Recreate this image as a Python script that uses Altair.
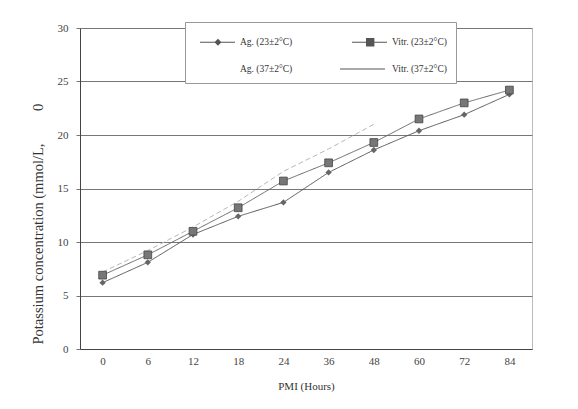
import altair as alt
import pandas as pd

hours = ["0", "6", "12", "18", "24", "36", "48", "60", "72", "84"]
ag_23 = [6.2, 8.1, 10.7, 12.4, 13.7, 16.5, 18.6, 20.4, 21.9, 23.8]
vitr_23 = [6.9, 8.8, 11.0, 13.2, 15.7, 17.4, 19.3, 21.5, 23.0, 24.2]
hours_37 = ["0", "6", "12", "18", "24", "36", "48"]
vitr_37 = [7.2, 9.2, 11.4, 13.8, 16.6, 18.7, 21.0]

series_names = ["Ag. (23±2°C)", "Vitr. (23±2°C)", "Ag. (37±2°C)", "Vitr. (37±2°C)"]

rows = []
for h, v in zip(hours, ag_23):
    rows.append({"hour": h, "value": v, "series": series_names[0]})
for h, v in zip(hours, vitr_23):
    rows.append({"hour": h, "value": v, "series": series_names[1]})
for h, v in zip(hours_37, vitr_37):
    rows.append({"hour": h, "value": v, "series": series_names[3]})
df = pd.DataFrame(rows)

FONT = "Liberation Serif"
NB = "\u00a0"

x_enc = alt.X("hour:N", sort=hours, scale=alt.Scale(paddingInner=0, paddingOuter=0.5),
              axis=alt.Axis(title="PMI (Hours)", labelAngle=0, ticks=False, labelPadding=6,
                            titlePadding=14, grid=False, domainColor="#444",
                            labelFontSize=11, titleFontSize=11))
y_enc = alt.Y("value:Q", scale=alt.Scale(domain=[0, 30]),
              axis=alt.Axis(values=[0, 5, 10, 15, 20, 25, 30], tickSize=4, labelPadding=8,
                            labelFontSize=11, titleFontSize=14.5,
                            title="Potassium concentration (mmol/L," + NB * 9 + "0",
                            titleAnchor="start", titleAlign="left", titleY=316, titleX=-35,
                            gridColor="#777", domainColor="#444", tickColor="#777"))

base = alt.Chart(df)

lines = base.mark_line(strokeWidth=1).encode(
    x=x_enc, y=y_enc,
    color=alt.Color("series:N", scale=alt.Scale(domain=series_names,
                                                range=["#555", "#666", "#ddd", "#b8b8b8"]), legend=None),
    strokeDash=alt.StrokeDash("series:N", scale=alt.Scale(domain=series_names,
                                                          range=[[1, 0], [1, 0], [4, 3], [5, 3]]), legend=None),
    detail="series:N",
)

pts_ag = base.transform_filter(alt.datum.series == series_names[0]).mark_point(
    shape="diamond", filled=True, size=40, color="#666", opacity=1
).encode(x=x_enc, y=y_enc)

pts_vitr = base.transform_filter(alt.datum.series == series_names[1]).mark_point(
    shape="square", filled=True, size=60, color="#777", stroke="#444", strokeWidth=0.8, opacity=1
).encode(x=x_enc, y=y_enc)

# legend symbols: line + marker, drawn as filled paths (unit = 11 px)
legend_paths = [
    "M-0.45,-0.045L2.73,-0.045L2.73,0.045L-0.45,0.045Z"
    "M1.18,-0.32L1.5,0L1.18,0.32L0.86,0Z",
    "M-0.45,-0.045L2.73,-0.045L2.73,0.045L-0.45,0.045Z"
    "M0.82,-0.38L1.58,-0.38L1.58,0.38L0.82,0.38Z",
    "M1.0,-0.01L1.02,-0.01L1.02,0.01L1.0,0.01Z",
    "M-1.55,-0.045L2.55,-0.045L2.55,0.045L-1.55,0.045Z",
]

legend_layer = base.transform_filter("false").mark_point(filled=True, color="#555").encode(
    x=x_enc, y=y_enc,
    shape=alt.Shape("series:N", scale=alt.Scale(domain=series_names, range=legend_paths),
                    legend=alt.Legend(title=None, orient="none", legendX=105, legendY=-6,
                                      direction="horizontal",
                                      columns=2, columnPadding=46, rowPadding=11,
                                      symbolSize=484, symbolFillColor="#666",
                                      symbolStrokeColor="#666", symbolStrokeWidth=0,
                                      symbolOpacity=1, labelOffset=24,
                                      labelFont=FONT, labelFontSize=9.5, labelColor="#333",
                                      padding=9, fillColor="white", strokeColor="#999")),
)

chart = alt.layer(lines, pts_ag, pts_vitr, legend_layer).resolve_scale(
    shape="independent"
).properties(
    width=452, height=321,
    autosize=alt.AutoSizeParams(type="none"),
    padding={"left": 72, "top": 20, "right": 38, "bottom": 52},
    background="white",
).configure_view(
    stroke="#bbb", strokeWidth=1
).configure_axis(
    labelFont=FONT, titleFont=FONT,
    labelColor="#444", titleColor="#333", titleFontWeight="normal",
)

chart.save("out.html", embed_options={"renderer": "svg", "actions": False})
